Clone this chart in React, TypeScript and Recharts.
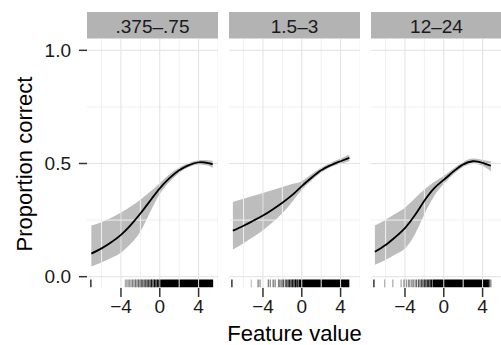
import {
  Area,
  ComposedChart,
  Line,
  ReferenceArea,
  ReferenceLine,
  XAxis,
  YAxis,
} from "recharts";

// facet labels
const facetLabels = [".375–.75", "1.5–3", "12–24"];

// fitted curves per facet: x, fit, lower, upper
const xs1 = [-7.05, -6, -5, -4, -3, -2, -1, 0, 1, 2, 3, 4, 5, 5.45];
const fit1 = [0.102, 0.125, 0.152, 0.185, 0.228, 0.279, 0.335, 0.39, 0.435, 0.47, 0.493, 0.505, 0.502, 0.496];
const lo1 = [0.045, 0.063, 0.083, 0.106, 0.145, 0.2, 0.285, 0.365, 0.418, 0.458, 0.484, 0.496, 0.49, 0.48];
const hi1 = [0.226, 0.241, 0.26, 0.283, 0.31, 0.34, 0.375, 0.413, 0.452, 0.482, 0.502, 0.514, 0.514, 0.512];

const xs2 = [-7.1, -6, -5, -4, -3, -2, -1, 0, 1, 2, 3, 4, 4.9];
const fit2 = [0.203, 0.225, 0.247, 0.27, 0.297, 0.327, 0.36, 0.4, 0.437, 0.47, 0.493, 0.51, 0.525];
const lo2 = [0.12, 0.148, 0.175, 0.205, 0.24, 0.28, 0.33, 0.383, 0.425, 0.46, 0.484, 0.499, 0.51];
const hi2 = [0.33, 0.344, 0.357, 0.37, 0.383, 0.396, 0.409, 0.422, 0.452, 0.481, 0.504, 0.522, 0.54];

const xs3 = [-7.1, -6, -5, -4, -3, -2, -1, 0, 1, 2, 3, 4, 4.85];
const fit3 = [0.11, 0.14, 0.175, 0.215, 0.27, 0.335, 0.39, 0.428, 0.465, 0.496, 0.51, 0.503, 0.49];
const lo3 = [0.053, 0.074, 0.098, 0.125, 0.185, 0.275, 0.355, 0.41, 0.452, 0.485, 0.498, 0.49, 0.465];
const hi3 = [0.226, 0.252, 0.278, 0.305, 0.345, 0.385, 0.418, 0.446, 0.478, 0.507, 0.522, 0.516, 0.51];

// rug: single observations [x, darkness] and the solid dense stretch [from, to]
const rug1 = [
  [-7.1, 1], [-3.55, 0.35], [-3.4, 0.4], [-3.25, 0.4], [-3.1, 0.45], [-2.95, 0.4], [-2.8, 0.5],
  [-2.65, 0.45], [-2.5, 0.55], [-2.35, 0.5], [-2.2, 0.6], [-2.05, 0.55], [-1.9, 0.65], [-1.75, 0.7],
  [-1.6, 0.65], [-1.45, 0.75], [-1.3, 0.8], [-1.15, 0.75], [-1.0, 0.85], [-0.85, 0.9], [-0.7, 0.85],
  [-0.55, 0.95], [-0.4, 1], [-0.25, 1], [-0.1, 1],
];
const dense1 = [0, 5.5];

const rug2 = [
  [-7.2, 1], [-5.2, 0.25], [-4.5, 0.55], [-4.3, 0.45], [-3.45, 0.55], [-3.25, 0.5], [-2.95, 0.6],
  [-2.75, 0.55], [-2.4, 0.5], [-2.25, 0.65], [-2.05, 0.6], [-1.9, 0.7], [-1.7, 0.65], [-1.55, 0.8],
  [-1.4, 0.85], [-1.25, 0.9], [-1.1, 0.95], [-0.95, 0.9], [-0.8, 1], [-0.65, 1], [-0.5, 1],
  [-0.4, 1],
];
const dense2 = [-0.3, 4.9];

const rug3 = [
  [-7.2, 1], [-6.1, 0.3], [-5.25, 0.35], [-4.4, 0.35], [-4.1, 0.5], [-3.85, 0.4], [-3.65, 0.45],
  [-3.5, 0.5], [-3.3, 0.45], [-3.15, 0.55], [-2.95, 0.5], [-2.8, 0.6], [-2.6, 0.65], [-2.45, 0.6],
  [-2.3, 0.7], [-2.15, 0.75], [-2.0, 0.8], [-1.85, 0.85], [-1.7, 0.9], [-1.55, 0.95], [-1.4, 1],
  [-1.25, 1], [4.7, 0.6], [4.8, 0.4], [4.9, 0.25],
];
const dense3 = [-1.15, 4.65];

const xTicks = [-4, 0, 4];
const xMinor = [-6, -2, 2, 6];
const yTicks = [0, 0.5, 1];
const yMinor = [0.25, 0.75];

const facets = [
  { xs: xs1, fit: fit1, lo: lo1, hi: hi1, rug: rug1, dense: dense1 },
  { xs: xs2, fit: fit2, lo: lo2, hi: hi2, rug: rug2, dense: dense2 },
  { xs: xs3, fit: fit3, lo: lo3, hi: hi3, rug: rug3, dense: dense3 },
];

const FONT = "'Liberation Sans', Arial, Helvetica, sans-serif";
const PANEL_LEFT = [87, 229, 371];
const PANEL_W = 131;
const PLOT_TOP = 39;
const PLOT_H = 249;
const AXIS_H = 40;
const Y_AXIS_W = 87;
const RUG_LO = -0.047;
const RUG_HI = -0.012;

const fmtX = (v: number) => (v < 0 ? `\u2212${Math.abs(v)}` : `${v}`);

const Panel = ({ i }: { i: number }) => {
  const f = facets[i];
  const data = f.xs.map((x, k) => ({ x, fit: f.fit[k], band: [f.lo[k], f.hi[k]] }));
  const first = i === 0;
  return (
    <div style={{ position: "absolute", left: first ? 0 : PANEL_LEFT[i], top: PLOT_TOP }}>
      <ComposedChart
        width={first ? Y_AXIS_W + PANEL_W : PANEL_W}
        height={PLOT_H + AXIS_H}
        data={data}
        margin={{ top: 0, right: 0, bottom: 0, left: 0 }}
      >
        <XAxis
          type="number"
          dataKey="x"
          domain={[-7.5, 6]}
          allowDataOverflow
          ticks={xTicks}
          interval={0}
          tickFormatter={fmtX}
          axisLine={false}
          tickSize={9}
          tickMargin={3}
          tickLine={{ stroke: "#333", strokeWidth: 1.5 }}
          tick={{ fill: "#1a1a1a", fontSize: 19 }}
          height={AXIS_H}
        />
        <YAxis
          type="number"
          domain={[-0.05, 1.05]}
          allowDataOverflow
          ticks={yTicks}
          interval={0}
          hide={!first}
          width={Y_AXIS_W}
          tickFormatter={(v: number) => v.toFixed(1)}
          axisLine={false}
          tickSize={8}
          tickMargin={8}
          tickLine={{ stroke: "#333", strokeWidth: 1.5 }}
          tick={{ fill: "#1a1a1a", fontSize: 19 }}
        />
        {xMinor.map((v) => (
          <ReferenceLine key={`xm${v}`} x={v} stroke="#f0f0f0" strokeWidth={1} ifOverflow="extendDomain" />
        ))}
        {yMinor.map((v) => (
          <ReferenceLine key={`ym${v}`} y={v} stroke="#f0f0f0" strokeWidth={1} />
        ))}
        {xTicks.map((v) => (
          <ReferenceLine key={`xM${v}`} x={v} stroke="#e2e2e2" strokeWidth={1} />
        ))}
        {yTicks.map((v) => (
          <ReferenceLine key={`yM${v}`} y={v} stroke="#e2e2e2" strokeWidth={1} />
        ))}
        <Area
          type="natural"
          dataKey="band"
          stroke="none"
          fill="#bdbdbd"
          fillOpacity={1}
          isAnimationActive={false}
        />
        <Line
          type="natural"
          dataKey="fit"
          stroke="#000"
          strokeWidth={1.8}
          dot={false}
          isAnimationActive={false}
        />
        {f.rug.map(([x, w], k) => (
          <ReferenceLine
            key={`r${k}`}
            segment={[
              { x, y: RUG_LO },
              { x, y: RUG_HI },
            ]}
            stroke="#000"
            strokeOpacity={w}
            strokeWidth={1.2}
          />
        ))}
        <ReferenceArea
          x1={f.dense[0]}
          x2={f.dense[1]}
          y1={RUG_LO}
          y2={RUG_HI}
          fill="#000"
          fillOpacity={1}
          stroke="none"
        />
      </ComposedChart>
    </div>
  );
};

export default function App() {
  return (
    <div
      style={{
        position: "absolute",
        left: 0,
        top: 0,
        width: 501,
        height: 345,
        background: "#fff",
        fontFamily: FONT,
        overflow: "hidden",
      }}
    >
      <svg width={501} height={345} style={{ position: "absolute", left: 0, top: 0 }}>
        {facetLabels.map((lab, i) => (
          <g key={lab}>
            <rect x={PANEL_LEFT[i]} y={12} width={PANEL_W} height={26.5} fill="#b3b3b3" />
            <text
              x={PANEL_LEFT[i] + PANEL_W / 2}
              y={33}
              textAnchor="middle"
              fontSize={19}
              fill="#1a1a1a"
              fontFamily={FONT}
            >
              {lab}
            </text>
          </g>
        ))}
        <text x={294.5} y={341} textAnchor="middle" fontSize={22} fill="#000" fontFamily={FONT}>
          Feature value
        </text>
        <text
          transform="translate(32,164) rotate(-90)"
          textAnchor="middle"
          fontSize={22}
          fill="#000"
          fontFamily={FONT}
        >
          Proportion correct
        </text>
      </svg>
      {facets.map((_, i) => (
        <Panel key={i} i={i} />
      ))}
    </div>
  );
}
